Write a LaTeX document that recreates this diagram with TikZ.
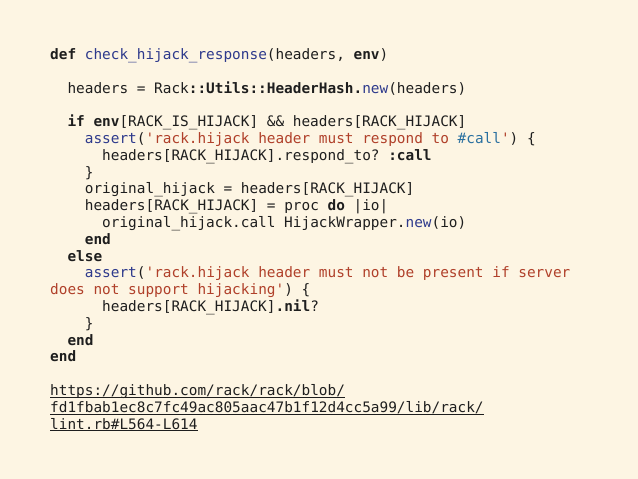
\documentclass[tikz,border=0pt]{standalone}
\usepackage{fontspec}
\setmonofont{DejaVu Sans Mono}
\definecolor{slidebg}{HTML}{FDF5E3}
\definecolor{codetext}{HTML}{1E1E1E}
\definecolor{rbblue}{HTML}{2E3A8C}
\definecolor{rbred}{HTML}{B0402A}
\definecolor{rbteal}{HTML}{2A70A0}
\newcommand\rbkw[1]{\textbf{#1}}
\newcommand\rbfn[1]{\textcolor{rbblue}{#1}}
\newcommand\rbstr[1]{\textcolor{rbred}{#1}}
\newcommand\rbint[1]{\textcolor{rbteal}{#1}}

\begin{document}
\begin{tikzpicture}[x=1pt,y=-1pt,code/.style={anchor=base west, inner sep=0pt, text=codetext, font=\ttfamily\fontsize{14.4pt}{16.8pt}\selectfont}, urlline/.style={draw=codetext, line width=0.9pt}]
\useasboundingbox[fill=slidebg] (0,0) rectangle (638,479);
% code block
\node[code] (l1) at (50,59.5) {\rbkw{def} \rbfn{check\_hijack\_response}(headers, \rbkw{env})};
\node[code] (l3) at (67.3,93.1) {headers = Rack\rbkw{::Utils::HeaderHash.}\rbfn{new}(headers)};
\node[code] (l5) at (67.3,126.7) {\rbkw{if} \rbkw{env}[RACK\_IS\_HIJACK] \&\& headers[RACK\_HIJACK]};
\node[code] (l6) at (84.7,143.5) {\rbfn{assert}(\rbstr{'rack.hijack header must respond to \rbint{\#call}'}) \{};
\node[code] (l7) at (102,160.3) {headers[RACK\_HIJACK].respond\_to? \rbkw{:call}};
\node[code] (l8) at (84.7,177.1) {\}};
\node[code] (l9) at (84.7,193.9) {original\_hijack = headers[RACK\_HIJACK]};
\node[code] (l10) at (84.7,210.7) {headers[RACK\_HIJACK] = proc \rbkw{do} |io|};
\node[code] (l11) at (102,227.5) {original\_hijack.call HijackWrapper.\rbfn{new}(io)};
\node[code] (l12) at (84.7,244.3) {\rbkw{end}};
\node[code] (l13) at (67.3,261.1) {\rbkw{else}};
\node[code] (l14) at (84.7,277.9) {\rbfn{assert}(\rbstr{'rack.hijack header must not be present if server}};
\node[code] (l15) at (50,294.7) {\rbstr{does not support hijacking'}) \{};
\node[code] (l16) at (102,311.5) {headers[RACK\_HIJACK]\rbkw{.nil}?};
\node[code] (l17) at (84.7,328.3) {\}};
\node[code] (l18) at (67.3,345.1) {\rbkw{end}};
\node[code] (l19) at (50,361.9) {\rbkw{end}};
% link
\node[code] (u1) at (50,395.5) {https://github.com/rack/rack/blob/};
\node[code] (u2) at (50,412.3) {fd1fbab1ec8c7fc49ac805aac47b1f12d4cc5a99/lib/rack/};
\node[code] (u3) at (50,429.1) {lint.rb\#L564-L614};
\foreach \u in {u1,u2,u3}
  \draw[urlline] ([yshift=-1.8pt]\u.base west) -- ([yshift=-1.8pt]\u.base east);
\end{tikzpicture}
\end{document}
